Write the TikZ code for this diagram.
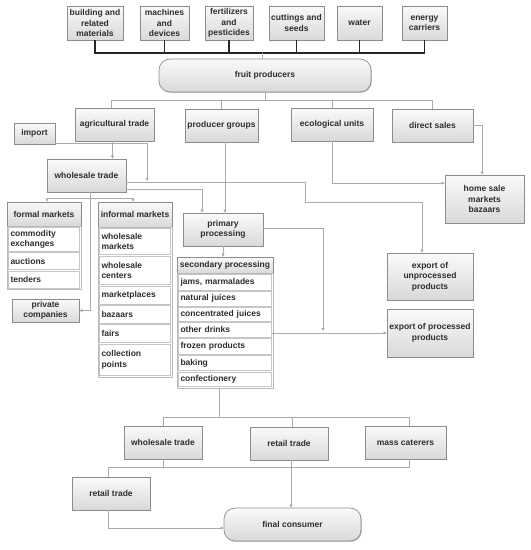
\documentclass[tikz,border=0pt]{standalone}
\usepackage{fontspec}
\setmainfont{Liberation Sans}
\usetikzlibrary{arrows.meta,shadows,calc}
\definecolor{txt}{HTML}{2E2E2E}
\definecolor{ln}{HTML}{ABABAB}
\definecolor{bd}{HTML}{8C8C8C}
\newcommand\lbl{\fontsize{8.5}{10.5}\selectfont\bfseries}
\tikzset{
  bx/.style={draw=bd, line width=0.7pt, top color=gray!4, bottom color=gray!30,
    font=\lbl, text=txt, align=center, inner sep=1pt,
    drop shadow={shadow xshift=0.9pt, shadow yshift=-0.9pt, opacity=0.22, fill=black}},
  rbx/.style={bx, rounded corners=11pt},
  frm/.style={draw=gray!55, line width=1pt, fill=white,
    drop shadow={shadow xshift=0.9pt, shadow yshift=-0.9pt, opacity=0.18, fill=black}},
  itm/.style={draw=gray!45, line width=0.5pt, fill=white, font=\lbl, text=txt,
    align=left, inner xsep=2pt, inner ysep=0pt},
  con/.style={draw=ln, line width=0.6pt},
  arr/.style={con, -{Triangle[length=3pt,width=3.2pt]}},
  bus/.style={draw=black!85, line width=1.1pt}
}
\begin{document}
\begin{tikzpicture}[x=1pt,y=1pt]
\useasboundingbox (0,0) rectangle (531,-550);
% top row
\node[bx,minimum width=56pt,minimum height=34pt] (b1) at (95,-23) {building and\\related\\materials};
\node[bx,minimum width=49pt,minimum height=34pt] (b2) at (164.5,-23) {machines\\and\\devices};
\node[bx,minimum width=48pt,minimum height=34pt] (b3) at (229,-23) {fertilizers\\and\\pesticides};
\node[bx,minimum width=55pt,minimum height=34pt] (b4) at (296.5,-23) {cuttings and\\seeds};
\node[bx,minimum width=45pt,minimum height=34pt] (b5) at (359.5,-23) {water};
\node[bx,minimum width=45pt,minimum height=34pt] (b6) at (424.5,-23) {energy\\carriers};
\node[rbx,minimum width=212pt,minimum height=33pt] (fp) at (265,-75.5) {fruit producers};
% second row
\node[bx,minimum width=79pt,minimum height=33pt] (at) at (114.5,-124.5) {agricultural trade};
\node[bx,minimum width=73pt,minimum height=33pt] (pg) at (221.5,-125.5) {producer groups};
\node[bx,minimum width=82pt,minimum height=33pt] (eu) at (332,-124.5) {ecological units};
\node[bx,minimum width=81pt,minimum height=33pt] (ds) at (432.5,-125.5) {direct sales};
\node[bx,minimum width=41pt,minimum height=21pt] (imp) at (34.5,-133.5) {import};
\node[bx,minimum width=79pt,minimum height=33pt] (wt) at (86.5,-175.5) {wholesale trade};
\node[bx,minimum width=79pt,minimum height=48pt] (hs) at (484.5,-199) {home sale\\markets\\bazaars};
% formal markets
\node[bx,minimum width=74pt,minimum height=24pt] (fmh) at (44,-214) {formal markets};
\node[frm,minimum width=74pt,minimum height=63.5pt] (fmf) at (44,-257.75) {};
\node[itm,text width=67pt,minimum height=23.5pt] (ce) at (44,-239.25) {commodity\\exchanges};
\node[itm,text width=67pt,minimum height=17pt] (au) at (44,-261) {auctions};
\node[itm,text width=67pt,minimum height=17pt] (te) at (44,-279.5) {tenders};
% informal markets
\node[bx,minimum width=74pt,minimum height=25pt] (imh) at (135,-214.5) {informal markets};
\node[frm,minimum width=74pt,minimum height=150pt] (imf) at (135,-302) {};
\node[itm,text width=67pt,minimum height=26pt] (wm) at (135,-241.5) {wholesale\\markets};
\node[itm,text width=67pt,minimum height=28.5pt] (wc) at (135,-270.25) {wholesale\\centers};
\node[itm,text width=67pt,minimum height=18pt] (mp) at (135,-295) {marketplaces};
\node[itm,text width=67pt,minimum height=17.5pt] (bz) at (135,-314.25) {bazaars};
\node[itm,text width=67pt,minimum height=18pt] (fa) at (135,-333.5) {fairs};
\node[itm,text width=67pt,minimum height=31.5pt] (cp) at (135,-359.75) {collection\\points};
\node[bx,minimum width=67pt,minimum height=23pt] (pc) at (45.5,-310.5) {private\\companies};
% processing
\node[bx,minimum width=80pt,minimum height=33pt] (pp) at (223,-229.5) {primary\\processing};
\node[bx,minimum width=96pt,minimum height=16pt] (sph) at (225,-265) {secondary processing};
\node[frm,minimum width=96pt,minimum height=115pt] (spf) at (225,-330.5) {};
\node[itm,text width=89pt,minimum height=15.5pt] (jm) at (225,-282.25) {jams, marmalades};
\node[itm,text width=89pt,minimum height=14.5pt] (nj) at (225,-298.75) {natural juices};
\node[itm,text width=89pt,minimum height=13.5pt] (cj) at (225,-314.25) {concentrated juices};
\node[itm,text width=89pt,minimum height=14.5pt] (od) at (225,-329.75) {other drinks};
\node[itm,text width=89pt,minimum height=15.5pt] (fr) at (225,-346.25) {frozen products};
\node[itm,text width=89pt,minimum height=15pt] (bk) at (225,-363) {baking};
\node[itm,text width=89pt,minimum height=14.5pt] (cf) at (225,-379.25) {confectionery};
% exports
\node[bx,minimum width=86pt,minimum height=47pt] (eun) at (430,-276.5) {export of\\unprocessed\\products};
\node[bx,minimum width=86pt,minimum height=48pt] (ep) at (430,-333) {export of processed\\products};
% bottom
\node[bx,minimum width=78pt,minimum height=33pt] (wt2) at (163,-442.5) {wholesale trade};
\node[bx,minimum width=78pt,minimum height=33pt] (rt) at (289,-443.5) {retail trade};
\node[bx,minimum width=81pt,minimum height=33pt] (mc) at (405.5,-442.5) {mass caterers};
\node[bx,minimum width=78pt,minimum height=33pt] (rt2) at (111,-493.5) {retail trade};
\node[rbx,minimum width=137pt,minimum height=33pt] (fc) at (292.5,-524.5) {final consumer};

% coordinates
\coordinate (r1) at (262,-53);
\coordinate (r2) at (0,-100);
\coordinate (impj) at (147,-181);
\coordinate (wtj) at (90,-198);
\coordinate (wtb) at (90,-192);
\coordinate (ppj) at (323,-331);
\coordinate (r4) at (0,-417);
\coordinate (r5) at (0,-467);

% top bus
\draw[bus] (b1.south) -- (b1.south |- r1) -- (b6.south |- r1) -- (b6.south);
\foreach \n in {b2,b3,b4,b5} \draw[bus] (\n.south) -- (\n.south |- r1);
\draw[con] (r1) -- (r1 |- fp.north);
% fruit producers to row 2
\draw[con] (fp.south) -- (fp.south |- r2);
\draw[con] ([xshift=-3pt]at.north |- r2) -- (ds.north |- r2);
\draw[con] ([xshift=-3pt]at.north |- r2) -- ([xshift=-3pt]at.north);
\foreach \n in {pg,eu,ds} \draw[con] (\n.north |- r2) -- (\n.north);
% row 2 links
\draw[arr] ([xshift=-2pt]at.south) -- ([xshift=-2pt]at.south |- wt.north);
\draw[arr] ([yshift=1pt]imp.south east) -| (impj);
\draw[arr] (wt.east |- 0,-182) -| (305,-202) -| ([xshift=-8pt]eun.north);
\draw[arr] (wt.east |- 0,-189) -| ([xshift=-21pt]pp.north);
\draw[arr] ([xshift=3.5pt]pg.south) -- ([xshift=3.5pt]pg.south |- pp.north);
\draw[arr] (eu.south) |- ([yshift=16pt]hs.west);
\draw[arr] (ds.east) -| ([xshift=-2.5pt]hs.north);
% wholesale trade branches
\draw[con] (wtb) -- (wtj);
\draw[arr] (wtj) -| ([xshift=3pt]fmh.north);
\draw[arr] (wtj) -| ([xshift=-2pt]imh.north);
\draw[arr] (wtj) |- (pc.east);
% processing
\draw[arr] (pp.south) -- (pp.south |- sph.north);
\draw[arr] ([yshift=1.5pt]pp.east) -| (ppj);
\draw[arr] (od.east |- ep.west) -- (ep.west);
% to bottom row
\draw[con] ([xshift=-6pt]spf.south) -- ([xshift=-6pt]spf.south |- r4);
\draw[con] (wt2.north |- r4) -- ([xshift=3.5pt]mc.north |- r4);
\draw[con] (wt2.north |- r4) -- (wt2.north);
\draw[con] ([xshift=3pt]rt.north |- r4) -- ([xshift=3pt]rt.north);
\draw[con] ([xshift=3.5pt]mc.north |- r4) -- ([xshift=3.5pt]mc.north);
% below
\draw[con] (wt2.south) -- (wt2.south |- r5);
\draw[con] ([xshift=4pt]mc.south) -- ([xshift=4pt]mc.south |- r5);
\draw[con] ([xshift=-3pt]rt2.north |- r5) -- ([xshift=4pt]mc.south |- r5);
\draw[con] ([xshift=-3pt]rt2.north |- r5) -- ([xshift=-3pt]rt2.north);
\draw[arr] ([xshift=2pt]rt.south) -- ([xshift=2pt]rt.south |- fc.north);
\draw[arr] ([xshift=-3pt]rt2.south) |- ([yshift=-3.5pt]fc.west);
\end{tikzpicture}
\end{document}
